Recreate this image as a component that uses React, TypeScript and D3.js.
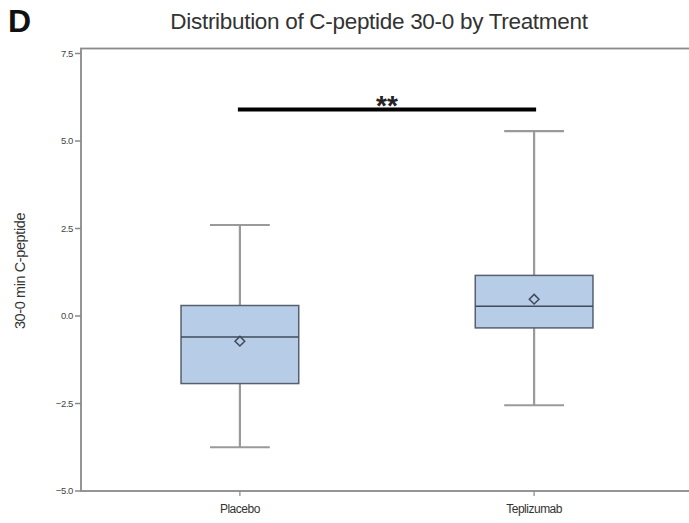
import React from "react";
import * as d3 from "d3";

// Treatment groups and their box-plot summaries (30-0 min C-peptide)
const groups = ["Placebo", "Teplizumab"];
const whiskerLow = [-3.75, -2.55];
const q1 = [-1.93, -0.34];
const median = [-0.6, 0.28];
const mean = [-0.72, 0.48];
const q3 = [0.3, 1.16];
const whiskerHigh = [2.6, 5.28];

const yTicks = [-5.0, -2.5, 0.0, 2.5, 5.0, 7.5];
const sigLevel = 5.9;
const sigLabel = "**";

const W = 689;
const H = 523;
const plot = { left: 81, right: 693, top: 48.5, bottom: 491 };

export default function App() {
  const y = d3.scaleLinear().domain([-5, 7.5]).range([plot.bottom, 53.5]);
  const x = d3
    .scalePoint<string>()
    .domain(groups)
    .range([plot.left, plot.right])
    .padding(0.54);
  const step = x.step();
  const boxW = step * 0.4;
  const capW = boxW * 0.5;

  const font = "'Liberation Sans', Arial, Helvetica, sans-serif";
  const diamond = d3.symbol().type(d3.symbolDiamond2).size(60)();

  const xA = x(groups[0]) as number;
  const xB = x(groups[1]) as number;

  return (
    <svg
      width={W}
      height={H}
      style={{ position: "absolute", left: 0, top: 0, background: "#fff", overflow: "hidden" }}
      fontFamily={font}
    >
      <text x={8} y={32} fontSize={32} fontWeight="bold" fill="#111">
        D
      </text>
      <text x={379} y={29} fontSize={22.5} textAnchor="middle" fill="#333" letterSpacing={-0.3}>
        Distribution of C-peptide 30-0 by Treatment
      </text>

      {/* plot frame; the right edge runs past the page */}
      <rect
        x={plot.left}
        y={plot.top}
        width={W + 20 - plot.left}
        height={plot.bottom - plot.top}
        fill="none"
        stroke="#8a8a8a"
        strokeWidth={1.8}
      />

      {/* y axis */}
      {yTicks.map((t) => (
        <g key={t} transform={`translate(0,${y(t)})`}>
          <line x1={plot.left - 6} x2={plot.left} stroke="#8a8a8a" strokeWidth={1.5} />
          <text
            x={plot.left - 8}
            dy="0.35em"
            fontSize={9.5}
            textAnchor="end"
            fill="#444"
            letterSpacing={-0.4}
          >
            {d3.format(".1f")(t)}
          </text>
        </g>
      ))}
      <text
        transform={`translate(25,271) rotate(-90)`}
        fontSize={14.5}
        textAnchor="middle"
        fill="#333"
        letterSpacing={-0.4}
      >
        30-0 min C-peptide
      </text>

      {/* x axis */}
      {groups.map((g) => (
        <g key={g} transform={`translate(${x(g)},${plot.bottom})`}>
          <line y1={0} y2={5} stroke="#8a8a8a" strokeWidth={1.2} />
          <text y={22} fontSize={12} textAnchor="middle" fill="#333" letterSpacing={-0.5}>
            {g}
          </text>
        </g>
      ))}

      {/* box plots */}
      {groups.map((g, i) => {
        const cx = x(g) as number;
        return (
          <g key={g}>
            <line x1={cx} x2={cx} y1={y(whiskerHigh[i])} y2={y(q3[i])} stroke="#9a9a9a" strokeWidth={2.2} />
            <line x1={cx} x2={cx} y1={y(q1[i])} y2={y(whiskerLow[i])} stroke="#9a9a9a" strokeWidth={2.2} />
            <line x1={cx - capW / 2 - 0.5} x2={cx + capW / 2 + 0.5} y1={y(whiskerHigh[i])} y2={y(whiskerHigh[i])} stroke="#9a9a9a" strokeWidth={2.2} />
            <line x1={cx - capW / 2 - 0.5} x2={cx + capW / 2 + 0.5} y1={y(whiskerLow[i])} y2={y(whiskerLow[i])} stroke="#9a9a9a" strokeWidth={2.2} />
            <rect
              x={cx - boxW / 2}
              y={y(q3[i])}
              width={boxW}
              height={y(q1[i]) - y(q3[i])}
              fill="#b7cde7"
              stroke="#56606e"
              strokeWidth={1.5}
            />
            <line x1={cx - boxW / 2} x2={cx + boxW / 2} y1={y(median[i])} y2={y(median[i])} stroke="#3f4a5c" strokeWidth={1.5} />
            <path d={diamond as string} transform={`translate(${cx},${y(mean[i])})`} fill="#b7cde7" stroke="#3f4a5c" strokeWidth={1.5} />
          </g>
        );
      })}

      {/* significance bracket */}
      <line x1={xA - 2} x2={xB + 2} y1={y(sigLevel)} y2={y(sigLevel)} stroke="#000" strokeWidth={4} />
      <text x={(xA + xB) / 2} y={y(sigLevel) + 5} fontSize={28} fontWeight="bold" textAnchor="middle" fill="#222">
        {sigLabel}
      </text>
    </svg>
  );
}
